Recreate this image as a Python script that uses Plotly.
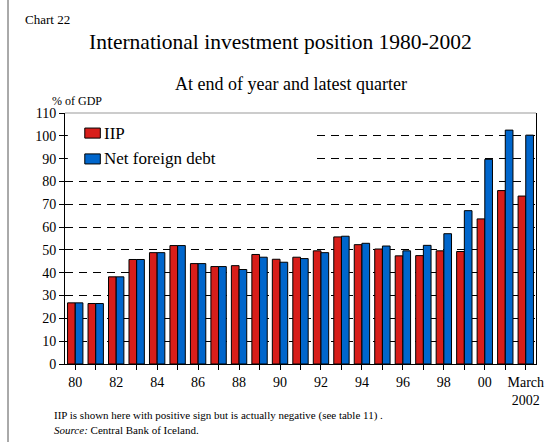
import plotly.graph_objects as go

years = ["1980", "1981", "1982", "1983", "1984", "1985", "1986", "1987", "1988",
         "1989", "1990", "1991", "1992", "1993", "1994", "1995", "1996", "1997",
         "1998", "1999", "2000", "2001", "Mar 2002"]
tick_text = ["80", "", "82", "", "84", "", "86", "", "88", "", "90", "", "92", "",
             "94", "", "96", "", "98", "", "00", "", "March<br>2002"]

iip = [26.8, 26.5, 38.2, 45.8, 48.8, 51.9, 44.0, 42.7, 43.1, 48.0, 45.9, 46.8,
       49.6, 55.7, 52.3, 50.4, 47.4, 47.5, 49.6, 49.3, 63.6, 76.0, 73.6]
net_debt = [26.8, 26.5, 38.2, 45.8, 48.8, 51.9, 44.0, 42.7, 41.4, 46.8, 44.6, 46.2,
            48.8, 56.0, 52.9, 51.7, 49.6, 52.0, 57.1, 67.2, 89.7, 102.5, 100.3]

RED = "#d81e1a"
BLUE = "#0066cc"
SERIF = "Liberation Serif, Times New Roman, serif"

fig = go.Figure()
fig.add_trace(go.Bar(x=years, y=iip, name="IIP",
                     marker=dict(color=RED, line=dict(color="black", width=1))))
fig.add_trace(go.Bar(x=years, y=net_debt, name="Net foreign debt",
                     marker=dict(color=BLUE, line=dict(color="black", width=1))))

fig.update_layout(
    width=556, height=442,
    margin=dict(l=65, r=13, t=113, b=78),
    paper_bgcolor="white", plot_bgcolor="white",
    font=dict(family=SERIF, color="black", size=13),
    barmode="group", bargap=0.25, bargroupgap=0,
    showlegend=False,
)

fig.update_xaxes(
    type="category", tickmode="array", tickvals=years, ticktext=tick_text,
    ticks="outside", ticklen=5, tickcolor="black",
    showline=True, linecolor="black", linewidth=1,
    showgrid=False, tickfont=dict(size=14),
)
fig.update_yaxes(
    range=[0, 110], dtick=10, ticks="outside", ticklen=5, tickcolor="black",
    showline=True, linecolor="black", linewidth=1, mirror=True,
    showgrid=True, gridcolor="black", gridwidth=1, griddash="8px,6px",
    zeroline=False, tickfont=dict(size=14),
)

# grey top border of the plot area
fig.add_shape(type="line", xref="paper", yref="paper", x0=0, x1=1, y0=1, y1=1,
              line=dict(color="#999999", width=1), layer="below")
# left frame line of the page
fig.add_shape(type="line", xref="paper", yref="paper", x0=-0.121, x1=-0.121,
              y0=-0.4, y1=1.5, line=dict(color="#555555", width=1))

# legend box (covers the grid) with its keys
fig.add_shape(type="rect", xref="paper", yref="paper", x0=0.006, x1=0.523,
              y0=0.765, y1=0.975, fillcolor="white", line=dict(width=0), layer="above")
for name, color, yc in [("IIP", RED, 0.920), ("Net foreign debt", BLUE, 0.817)]:
    fig.add_shape(type="rect", xref="paper", yref="paper", x0=0.042, x1=0.075,
                  y0=yc - 0.02, y1=yc + 0.02, fillcolor=color,
                  line=dict(color="black", width=1), layer="above")
    fig.add_annotation(text=name, xref="paper", yref="paper", x=0.078, y=yc,
                       xanchor="left", yanchor="middle", showarrow=False,
                       font=dict(size=17))

fig.add_annotation(text="Chart 22", xref="paper", yref="paper", x=-0.09, y=1.371,
                   xanchor="left", yanchor="middle", showarrow=False, font=dict(size=13))
fig.add_annotation(text="International investment position 1980-2002", xref="paper",
                   yref="paper", x=0.457, y=1.283, xanchor="center", yanchor="middle",
                   showarrow=False, font=dict(size=21.5))
fig.add_annotation(text="At end of year and latest quarter", xref="paper", yref="paper",
                   x=0.479, y=1.116, xanchor="center", yanchor="middle",
                   showarrow=False, font=dict(size=18))
fig.add_annotation(text="% of GDP", xref="paper", yref="paper", x=-0.031, y=1.048,
                   xanchor="left", yanchor="middle", showarrow=False, font=dict(size=12))
fig.add_annotation(text="IIP is shown here with positive sign but is actually negative (see table 11) .",
                   xref="paper", yref="paper", x=-0.027, y=-0.207, xanchor="left",
                   yanchor="middle", showarrow=False, font=dict(size=11))
fig.add_annotation(text="<i>Source:</i> Central Bank of Iceland.", xref="paper", yref="paper",
                   x=-0.027, y=-0.263, xanchor="left", yanchor="middle",
                   showarrow=False, font=dict(size=11))

fig.write_html("out.html", config={"displayModeBar": False},
               post_script="document.body.style.margin='0';")
